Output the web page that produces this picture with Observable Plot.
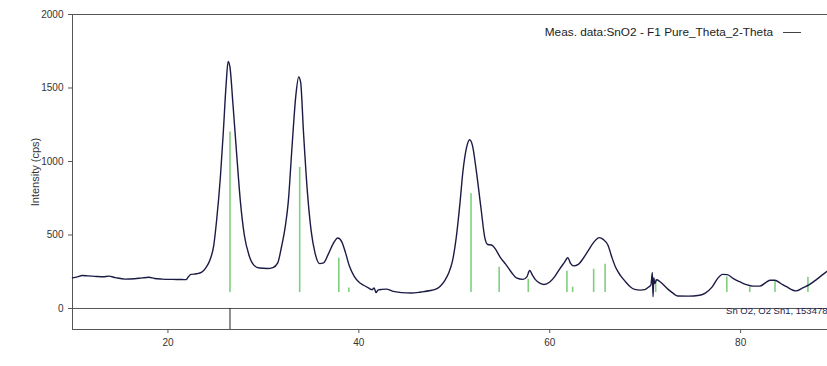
<!DOCTYPE html>
<html>
<head>
<meta charset="utf-8">
<script src="https://cdn.jsdelivr.net/npm/d3@7"></script>
<script src="https://cdn.jsdelivr.net/npm/@observablehq/plot@0.6"></script>
<style>
  html, body { margin: 0; padding: 0; background: #fff; }
  #wrap { position: relative; width: 827px; height: 366px; overflow: hidden; }
  #legend {
    position: absolute; top: 25px; right: 26px;
    display: flex; align-items: center; gap: 10px;
    font-family: "Liberation Sans", Arial, sans-serif; font-size: 11.8px; color: #1c1c1c;
  }
  #legend .swatch { width: 18px; border-top: 1.2px solid #444; }
</style>
</head>
<body>
<div id="wrap">
  <div id="legend"><span>Meas. data:SnO2 - F1 Pure_Theta_2-Theta</span><span class="swatch"></span></div>
</div>
<script>
// Measured scan: 2θ (degrees) and intensity (cps)
const twoTheta = [
  10.0, 10.5, 11.0, 11.6, 12.5, 13.2, 13.8, 14.5, 15.5, 16.5, 17.3, 18.0, 18.6, 19.4, 20.5, 21.5, 21.9,
  22.1, 22.4, 23.0, 23.5, 24.0, 24.4, 24.8, 25.1, 25.5, 25.8, 26.1, 26.3, 26.5, 26.8, 27.2, 27.6, 28.0,
  28.5, 29.0, 29.6, 30.4, 31.0, 31.5, 31.9, 32.3, 32.6, 33.0, 33.4, 33.7, 33.9, 34.2, 34.6, 35.0, 35.4,
  35.9, 36.3, 36.8, 37.3, 37.8, 38.2, 38.6, 39.0, 39.5, 40.0, 40.5, 41.0, 41.4, 41.6, 41.8, 42.0, 42.4,
  42.9, 43.5, 44.5, 45.5, 46.5, 47.5, 48.0, 48.5, 49.0, 49.4, 49.8, 50.2, 50.6, 50.9, 51.3, 51.6, 51.9,
  52.3, 52.8, 53.2, 53.5, 53.9, 54.3, 54.8, 55.4, 56.0, 56.5, 57.2, 57.6, 57.9, 58.2, 58.5, 59.0, 59.4,
  60.0, 60.5, 61.0, 61.5, 61.9, 62.2, 62.5, 63.0, 63.5, 64.0, 64.6, 65.2, 65.6, 66.1, 66.5, 66.9, 67.4,
  67.9, 68.4, 68.9, 69.5, 69.95, 70.4, 70.6, 70.75, 70.82, 70.9, 71.0, 71.2, 71.5, 71.9, 72.4, 72.8,
  73.4, 74.5, 75.7, 76.3, 77.0, 77.6, 78.1, 78.6, 79.2, 79.9, 80.6, 81.3, 82.0, 82.7, 83.1, 83.6, 84.2,
  84.8, 85.8, 86.5, 87.2, 88.0, 88.6, 89.1
];
const counts = [
  208, 215, 224, 222, 218, 216, 220, 210, 200, 202, 208, 212, 204, 200, 198, 197, 196,
  212, 232, 236, 245, 280, 330, 430, 600, 900, 1200, 1530, 1680, 1640, 1400, 1050, 720, 500,
  360, 295, 275, 272, 278, 310, 420, 560, 720, 1100, 1450, 1575, 1540, 1200, 800, 530, 380,
  305, 310, 370, 440, 480, 455, 380, 290, 220, 180, 158, 140, 128, 140, 108, 125, 130,
  132, 118, 108, 105, 112, 122, 130, 150, 190, 240, 320, 480, 720, 930, 1100, 1148, 1110,
  940, 680, 480, 435, 432, 405, 350, 300, 245, 208, 198, 215, 258, 225, 196, 170, 163,
  180, 215, 265, 310, 345, 305, 290, 300, 340, 390, 450, 482, 470, 430, 350, 280, 225,
  185, 150, 130, 125, 128, 148, 160, 245, 80, 210, 170, 195, 185, 162, 130, 110,
  85, 84, 90, 105, 145, 205, 232, 230, 205, 182, 162, 152, 152, 180, 192, 192, 170,
  148, 120, 140, 162, 200, 230, 255
];

// Reference pattern: Sn O2, O2 Sn1, 153478 (line positions and drawn heights)
const refPos = [26.5, 33.8, 37.9, 38.95, 51.75, 54.7, 57.75, 61.8, 62.4, 64.6, 65.8, 71.1, 78.55, 80.95, 83.6, 87.05];
const refTop = [1200, 960, 342, 140, 780, 281, 199, 253, 145, 267, 301, 195, 215, 145, 188, 212];
const refBase = 108;
const refName = "Sn O2, O2 Sn1, 153478";

const yTicks = [0, 500, 1000, 1500, 2000];
const xTicks = [20, 40, 60, 80];
const xDomain = [10, 89.1];
const yDomain = [-143, 2000];
const yLabel = "Intensity (cps)";

const scan = twoTheta.map((t, i) => ({t, c: counts[i]}));
const refs = refPos.map((p, i) => ({p, top: refTop[i]}));
const strongest = refs.reduce((a, b) => (b.top > a.top ? b : a));

const chart = Plot.plot({
  width: 827,
  height: 366,
  marginLeft: 72,
  marginRight: 0,
  marginTop: 14,
  marginBottom: 37,
  style: {fontFamily: "'Liberation Sans', Arial, sans-serif", fontSize: "10px", color: "#333", background: "#fff"},
  x: {domain: xDomain},
  y: {domain: yDomain},
  marks: [
    Plot.axisY({ticks: yTicks, tickSize: 4, tickFormat: d => String(d), label: null, stroke: "#555"}),
    Plot.axisX({ticks: xTicks, tickSize: 4, tickFormat: d => String(d), label: null, stroke: "#555"}),
    // frame lines: left axis, top border, zero line, bottom axis
    Plot.ruleX([xDomain[0]], {y1: yDomain[0], y2: yDomain[1], stroke: "#555"}),
    Plot.ruleY([yDomain[1], 0, yDomain[0]], {stroke: "#555"}),
    // reference sticks
    Plot.ruleX(refs, {x: "p", y1: refBase, y2: "top", stroke: "#7fcf7f", strokeWidth: 1.6}),
    // marker of the strongest reference line in the pattern strip
    Plot.ruleX([strongest], {x: "p", y1: yDomain[0], y2: 0, stroke: "#222"}),
    // measured scan
    Plot.line(scan, {x: "t", y: "c", curve: "monotone-x", stroke: "#1b1b45", strokeWidth: 1.4}),
    Plot.text([yLabel], {frameAnchor: "left", textAnchor: "middle", rotate: -90, dx: -37, fontSize: 11, fill: "#333"}),
    Plot.text([refName], {frameAnchor: "bottom-right", dy: -16, textAnchor: "end", fontSize: 9.5, fill: "#23234d"})
  ]
});

document.getElementById("wrap").prepend(chart);
</script>
</body>
</html>
